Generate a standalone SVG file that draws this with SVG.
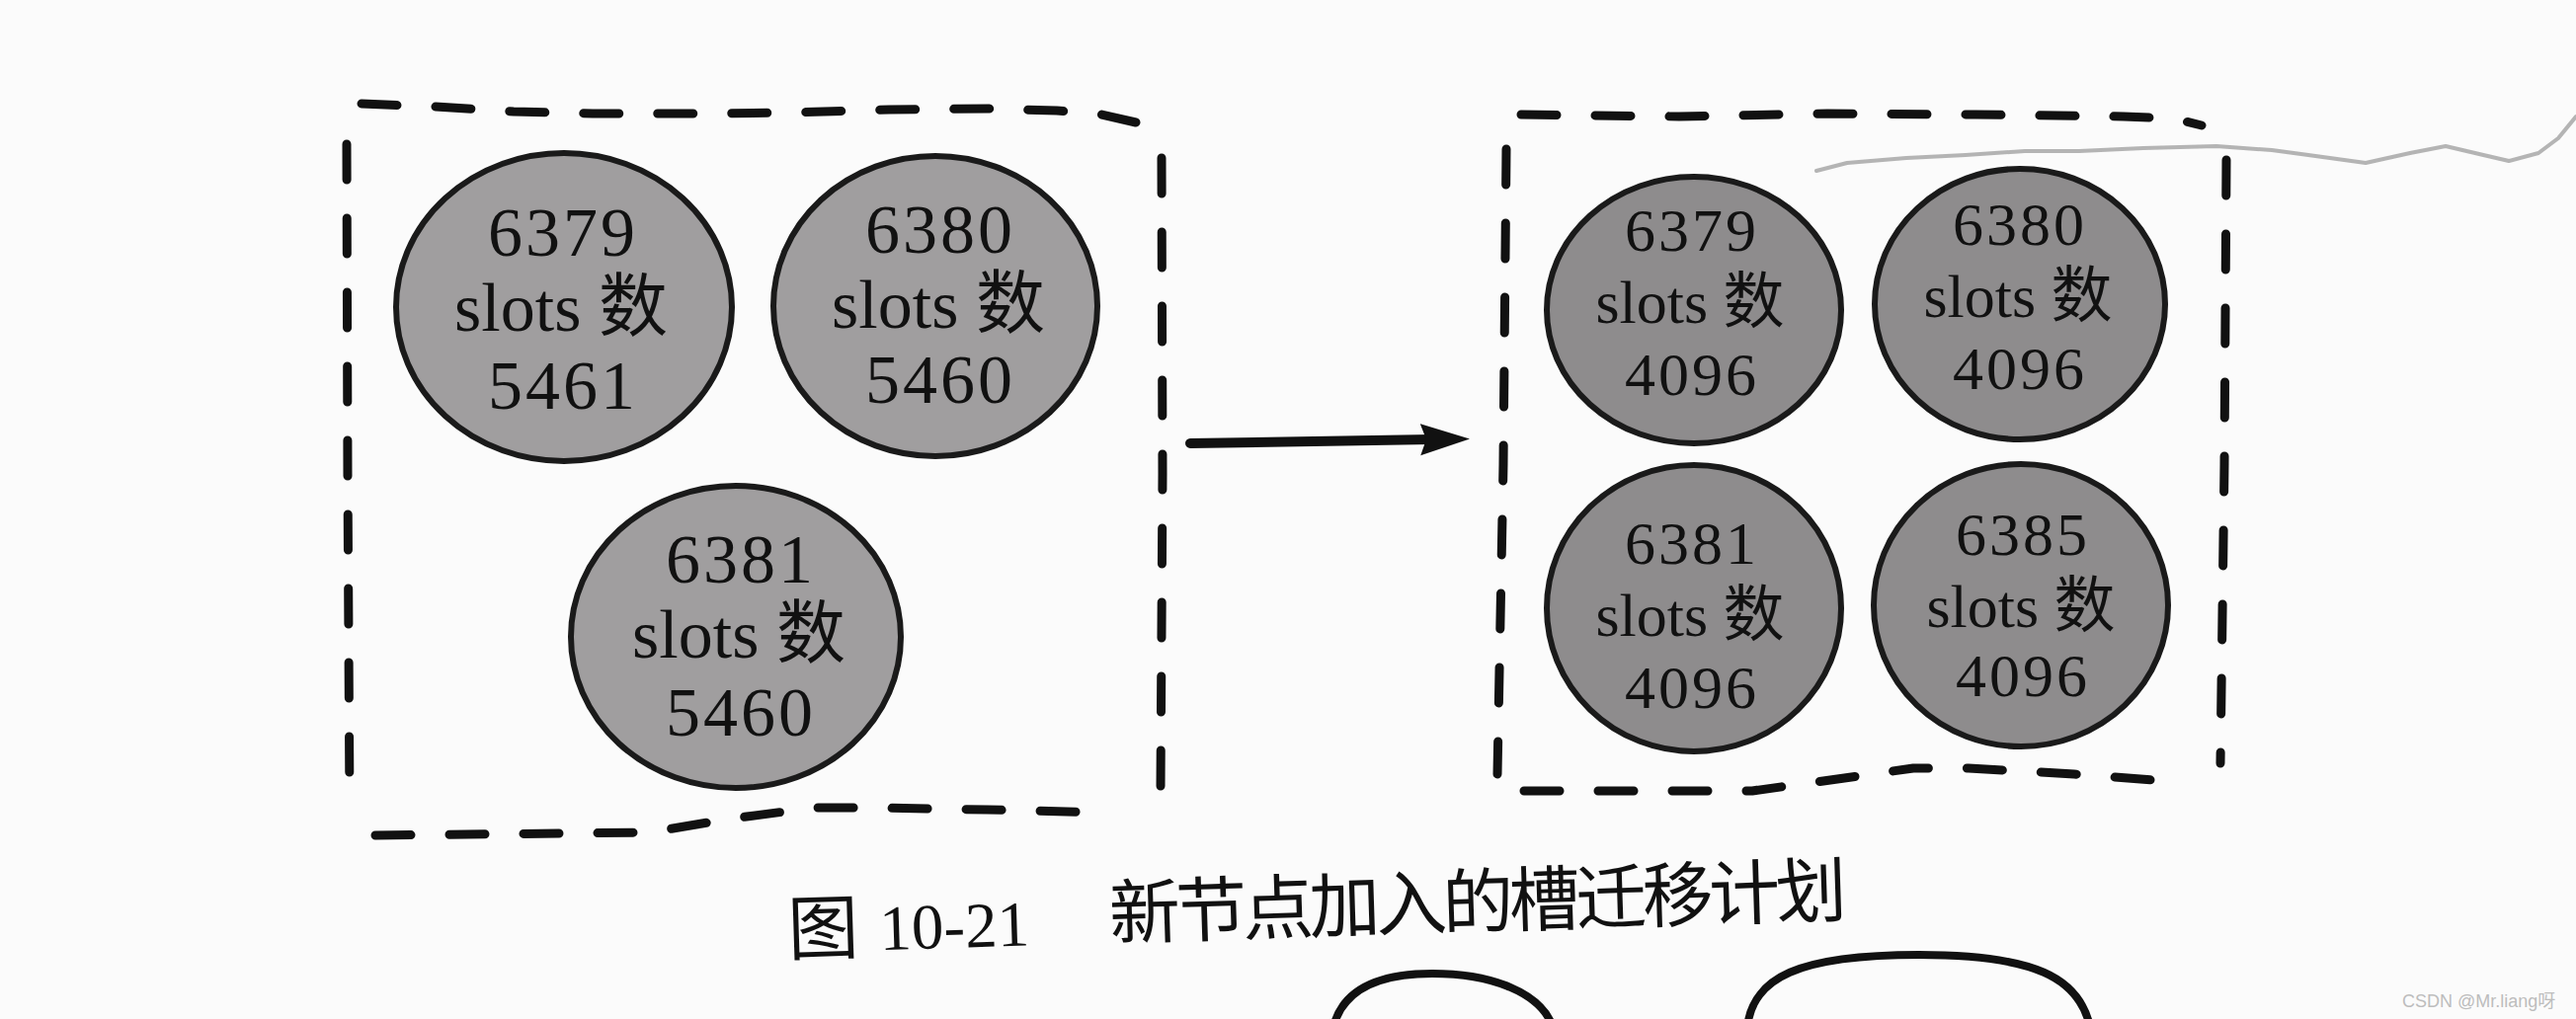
<svg xmlns="http://www.w3.org/2000/svg" width="2608" height="1032" viewBox="0 0 2608 1032">
<style>
.bg{fill:#fbfbfb}
.dash{fill:none;stroke:#111;stroke-width:9;stroke-dasharray:36 39;stroke-linecap:round;stroke-linejoin:round}
.nodeA{fill:#a09e9f;stroke:#1a1a1a;stroke-width:6}
.nodeB{fill:#8e8c8d;stroke:#1a1a1a;stroke-width:6}
.tA{font-family:"Liberation Serif","Noto Sans CJK SC",serif;font-size:70px;fill:#111;text-anchor:middle}
.tB{font-family:"Liberation Serif","Noto Sans CJK SC",serif;font-size:62px;fill:#111;text-anchor:middle}
.num{letter-spacing:3px}
.cap{font-family:"Noto Sans CJK SC",sans-serif;font-size:72px;fill:#111}
.capn{font-family:"Liberation Serif",serif;font-size:65px;fill:#111}
.wm{font-family:"Liberation Sans","Noto Sans CJK SC",sans-serif;font-size:18px;fill:#bdbdbd}
.arc{fill:none;stroke:#111;stroke-width:8}
.pencil{fill:none;stroke:#9c9c9c;stroke-width:4;stroke-linejoin:round;stroke-linecap:round;opacity:0.75}
</style>
<defs>
<marker id="ah" markerUnits="userSpaceOnUse" markerWidth="54" markerHeight="36" refX="12" refY="17" orient="auto">
<path d="M0,1 L50,17 L0,33 L6,17 z" fill="#111"/>
</marker>
</defs>
<rect class="bg" x="0" y="0" width="2608" height="1032"/>

<!-- pencil scribble on page -->
<path class="pencil" d="M1839,173 L1870,165 L1930,160 L1990,157 L2050,153 L2105,153 L2170,150 L2244,148 L2300,152 L2337,157 L2395,165 L2440,155 L2476,148 L2510,156 L2540,163 L2570,155 L2590,140 L2608,118"/>

<g id="cluster-before">
<path class="dash" d="M366,105 L440,108 L520,113 L600,115 L720,115 L800,114 L900,111 L1000,110 L1070,112 L1115,116 L1150,124"/>
<path class="dash" d="M351,146 L352,480 L354,820"/>
<path class="dash" d="M1176,160 L1177,480 L1175,800"/>
<path class="dash" d="M380,846 L657,843 L741,829 L825,818 L881,818 L1000,820 L1122,823"/>
</g>

<g id="node-6379-a">
<ellipse class="nodeA" cx="571" cy="311" rx="170" ry="156"/>
<text class="tA num" x="570" y="259">6379</text>
<text class="tA" x="568" y="335">slots 数</text>
<text class="tA num" x="570" y="414">5461</text>
</g>
<g id="node-6380-a">
<ellipse class="nodeA" cx="947" cy="310" rx="164" ry="152"/>
<text class="tA num" x="952" y="256">6380</text>
<text class="tA" x="950" y="332">slots 数</text>
<text class="tA num" x="952" y="408">5460</text>
</g>
<g id="node-6381-a">
<ellipse class="nodeA" cx="745" cy="645" rx="167" ry="153"/>
<text class="tA num" x="750" y="590">6381</text>
<text class="tA" x="748" y="666">slots 数</text>
<text class="tA num" x="750" y="745">5460</text>
</g>

<g id="cluster-after">
<path class="dash" d="M1540,116 L1700,118 L1850,115 L2000,116 L2150,118 L2200,120 L2229,127"/>
<path class="dash" d="M1525,151 L1522,470 L1516,784"/>
<path class="dash" d="M2254,162 L2252,470 L2248,773"/>
<path class="dash" d="M1543,801 L1774,801 L1853,790 L1937,778 L1993,778 L2100,784 L2206,792"/>
</g>

<g id="node-6379-b">
<ellipse class="nodeB" cx="1715" cy="314" rx="149" ry="135"/>
<text class="tB num" x="1713" y="254">6379</text>
<text class="tB" x="1711" y="327">slots 数</text>
<text class="tB num" x="1713" y="400">4096</text>
</g>
<g id="node-6380-b">
<ellipse class="nodeB" cx="2045" cy="308" rx="147" ry="137"/>
<text class="tB num" x="2045" y="248">6380</text>
<text class="tB" x="2043" y="321">slots 数</text>
<text class="tB num" x="2045" y="394">4096</text>
</g>
<g id="node-6381-b">
<ellipse class="nodeB" cx="1715" cy="616" rx="149" ry="145"/>
<text class="tB num" x="1713" y="571">6381</text>
<text class="tB" x="1711" y="644">slots 数</text>
<text class="tB num" x="1713" y="717">4096</text>
</g>
<g id="node-6385-b">
<ellipse class="nodeB" cx="2046" cy="613" rx="149" ry="143"/>
<text class="tB num" x="2048" y="562">6385</text>
<text class="tB" x="2046" y="635">slots 数</text>
<text class="tB num" x="2048" y="705">4096</text>
</g>

<g id="connectors">
<path d="M1205,449 L1450,445" fill="none" stroke="#111" stroke-width="10" stroke-linecap="round" marker-end="url(#ah)"/>
</g>

<g id="caption" transform="rotate(-1.8 800 962)">
<text class="cap" x="798" y="967">图</text>
<text class="capn" x="891" y="965">10-21</text>
<text class="cap" x="1124" y="961" letter-spacing="-4.5">新节点加入的槽迁移计划</text>
</g>

<!-- partial shapes of the next figure at the page bottom -->
<path class="arc" d="M1350,1040 C1360,1000 1400,986 1450,986 C1510,986 1560,1005 1572,1040"/>
<path class="arc" d="M1769,1040 C1775,990 1820,967 1943,967 C2060,967 2105,990 2116,1040"/>

<text class="wm" x="2432" y="1020">CSDN @Mr.liang呀</text>
</svg>
